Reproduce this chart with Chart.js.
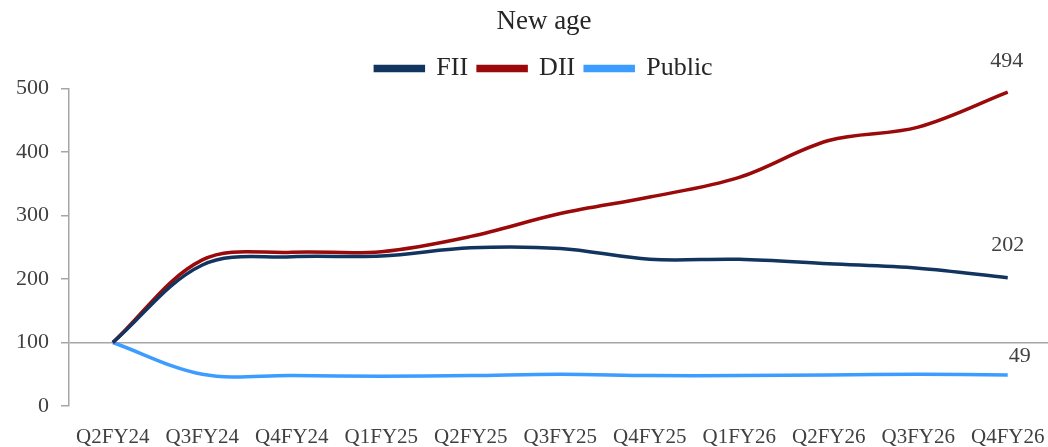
<!DOCTYPE html>
<html>
<head>
<meta charset="utf-8">
<script src="https://cdn.jsdelivr.net/npm/chart.js@4"></script>
<style>
  html, body { margin: 0; padding: 0; background: #fff; overflow: hidden; }
  #wrap { width: 1048px; height: 447px; }
</style>
</head>
<body>
<div id="wrap"><canvas id="newAgeChart" width="1048" height="447"></canvas></div>
<script>
const quarters = ['Q2FY24', 'Q3FY24', 'Q4FY24', 'Q1FY25', 'Q2FY25', 'Q3FY25', 'Q4FY25', 'Q1FY26', 'Q2FY26', 'Q3FY26', 'Q4FY26'];
const fiiValues = [100, 222, 235, 236, 249, 248, 231, 231, 224, 217, 202];
const diiValues = [100, 230, 242, 243, 267, 303, 329, 360, 418, 439, 494];
const publicValues = [100, 50, 48, 47, 48, 50, 48, 48, 49, 50, 49];
const yTicks = [0, 100, 200, 300, 400, 500];

const serif = 'Liberation Serif';
const axisGrey = '#a6a6a6';

function toPoints(values) {
    return values.map((v, i) => ({ x: i, y: v }));
}

// title + legend sit a bit right of the canvas centre in the original
const headerShift = {
    id: 'headerShift',
    afterLayout(chart) {
        [chart.titleBlock, chart.legend].forEach(box => {
            if (!box) return;
            box.left += 20;
            box.right += 20;
        });
        if (chart.legend) {
            chart.legend.top += 3;
            chart.legend.bottom += 3;
        }
    }
};

// last value written above the end of each line
const endLabels = {
    id: 'endLabels',
    afterDatasetsDraw(chart) {
        const ctx = chart.ctx;
        const shifts = [
            { dx: 0, dy: -32 },   // FII
            { dx: -1, dy: -31 },  // DII
            { dx: 12, dy: -19 }   // Public
        ];
        ctx.save();
        ctx.font = '22px "' + serif + '"';
        ctx.fillStyle = '#404040';
        ctx.textAlign = 'center';
        ctx.textBaseline = 'middle';
        chart.data.datasets.forEach((ds, k) => {
            const meta = chart.getDatasetMeta(k);
            const last = meta.data[meta.data.length - 1];
            const value = ds.data[ds.data.length - 1].y;
            ctx.fillText(String(value), last.x + shifts[k].dx, last.y + shifts[k].dy);
        });
        ctx.restore();
    }
};

const ctx = document.getElementById('newAgeChart').getContext('2d');
const newAgeChart = new Chart(ctx, {
    type: 'line',
    data: {
        datasets: [
            {
                label: 'FII',
                data: toPoints(fiiValues),
                borderColor: '#12355f',
                backgroundColor: '#12355f',
                borderWidth: 3.5,
                pointRadius: 0,
                tension: 0.35,
                fill: false
            },
            {
                label: 'DII',
                data: toPoints(diiValues),
                borderColor: '#9b0a0a',
                backgroundColor: '#9b0a0a',
                borderWidth: 3.5,
                pointRadius: 0,
                tension: 0.35,
                fill: false
            },
            {
                label: 'Public',
                data: toPoints(publicValues),
                borderColor: '#3d9cff',
                backgroundColor: '#3d9cff',
                borderWidth: 3.5,
                pointRadius: 0,
                tension: 0.35,
                fill: false
            }
        ]
    },
    options: {
        responsive: false,
        animation: false,
        layout: {
            padding: { left: 0, right: 0, top: 0, bottom: 0 }
        },
        plugins: {
            title: {
                display: true,
                text: 'New age',
                color: '#262626',
                font: { family: serif, size: 27, weight: 'normal' },
                padding: { top: 6, bottom: 4 }
            },
            legend: {
                display: true,
                position: 'top',
                labels: {
                    color: '#262626',
                    font: { family: serif, size: 26 },
                    boxWidth: 48,
                    boxHeight: 4,
                    padding: 10
                }
            },
            tooltip: { enabled: false }
        },
        scales: {
            x: {
                type: 'linear',
                min: -0.49,
                max: 10.45,
                afterBuildTicks: (scale) => {
                    scale.ticks = quarters.map((q, i) => ({ value: i }));
                },
                afterFit: (scale) => {
                    scale.height = 41;
                    scale.paddingLeft = 0;
                    scale.paddingRight = 0;
                },
                ticks: {
                    color: '#404040',
                    font: { family: serif, size: 21 },
                    padding: 19,
                    autoSkip: false,
                    maxRotation: 0,
                    callback: (value) => quarters[value]
                },
                grid: { display: false, drawTicks: false },
                border: { display: false }
            },
            y: {
                min: 0,
                max: 500,
                afterBuildTicks: (scale) => {
                    scale.ticks = yTicks.map(v => ({ value: v }));
                },
                afterFit: (scale) => {
                    scale.width = 69;
                },
                ticks: {
                    color: '#404040',
                    font: { family: serif, size: 22 },
                    padding: 12
                },
                grid: {
                    color: (c) => (c.tick && c.tick.value === 100 ? axisGrey : 'rgba(0,0,0,0)'),
                    tickColor: axisGrey,
                    tickLength: 8,
                    lineWidth: 1.5
                },
                border: { display: true, color: axisGrey, width: 1.5 }
            }
        }
    },
    plugins: [headerShift, endLabels]
});
</script>
</body>
</html>
